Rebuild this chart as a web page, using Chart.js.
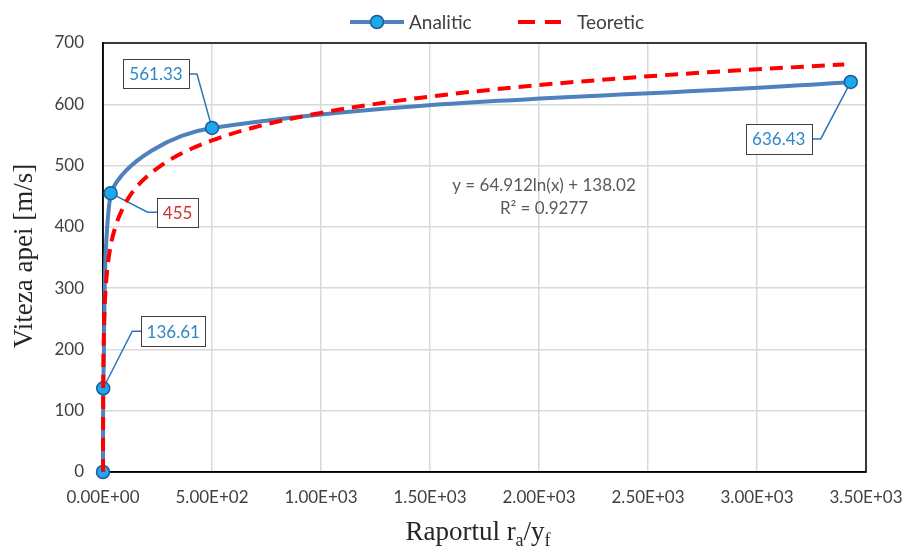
<!DOCTYPE html>
<html>
<head>
<meta charset="utf-8">
<script src="https://cdn.jsdelivr.net/npm/chart.js@4.4.1/dist/chart.umd.min.js"></script>
<style>
html,body{margin:0;padding:0;background:#fff;}
#wrap{width:909px;height:546px;}
</style>
</head>
<body>
<div id="wrap"><canvas id="c" width="909" height="546"></canvas></div>
<script>
// ---- data ----
const analiticX = [0, 1, 35, 500, 3430];
const analiticY = [0, 136.61, 455, 561.33, 636.43];
const analiticLabels = ['', '136.61', '455', '561.33', '636.43'];

const teoreticX = [0.12, 0.3, 0.6, 1, 2, 4, 7, 12, 20, 35, 55, 80, 120, 180, 250, 350, 500, 700, 1000, 1400, 1900, 2400, 2900, 3400];
const teoreticY = [0, 60, 105, 138, 183, 228, 264, 299, 332, 369, 398, 422, 449, 475, 496, 518, 541, 563, 586, 608, 628, 643, 655, 665];

const xTicks = [0, 500, 1000, 1500, 2000, 2500, 3000, 3500];
const yTicks = [0, 100, 200, 300, 400, 500, 600, 700];

const seriesNames = ['Analitic', 'Teoretic'];
const trendText = ['y = 64.912ln(x) + 138.02', 'R² = 0.9277'];
const xTitle = ['Raportul r', 'a', '/y', 'f'];
const yTitle = 'Viteza apei [m/s]';

// ---- styles ----
const BLUE = '#4F81BD';
const MARK_FILL = '#1AA9EC';
const MARK_EDGE = '#215A96';
const RED = '#FF0000';
const LABEL_BLUE = '#2E86C8';
const LABEL_RED = '#D0312D';
const LEADER = '#2E75B6';
const SANS = 'Lato, "Open Sans", sans-serif';
const SERIF = '"Liberation Serif", "DejaVu Serif", serif';

function sci(v) {
  if (v === 0) return '0.00E+00';
  const e = Math.floor(Math.log10(Math.abs(v)) + 1e-9);
  const m = v / Math.pow(10, e);
  const es = (e < 0 ? '-' : '+') + String(Math.abs(e)).padStart(2, '0');
  return m.toFixed(2) + 'E' + es;
}

const anPts = analiticX.map((x, i) => ({x, y: analiticY[i]}));
const teoPts = teoreticX.map((x, i) => ({x, y: teoreticY[i]}));

// callout geometry: offsets (px) relative to point: elbow, box center, box size, text color
const callouts = [
  null,
  {elbow: [29, -57], box: [70, -57], w: 64, h: 30, color: LABEL_BLUE},
  {elbow: [37, 19], box: [67, 19.5], w: 41, h: 29, color: LABEL_RED},
  {elbow: [-15, -54], box: [-56, -54], w: 66, h: 29, color: LABEL_BLUE},
  {elbow: [-30, 57], box: [-72, 57], w: 66, h: 30, color: LABEL_BLUE}
];

const decor = {
  id: 'decor',
  beforeDatasetsDraw(chart) {
    const {ctx, chartArea: a} = chart;
    const meta = chart.getDatasetMeta(0);
    ctx.save();
    // plot border
    ctx.strokeStyle = '#000';
    ctx.lineWidth = 1.5;
    ctx.strokeRect(a.left, a.top, a.right - a.left, a.bottom - a.top);
    // leader lines (beneath markers)
    ctx.strokeStyle = LEADER;
    ctx.lineWidth = 1.5;
    meta.data.forEach((pt, i) => {
      const c = callouts[i];
      if (!c) return;
      const ex = pt.x + c.elbow[0], ey = pt.y + c.elbow[1];
      const bx = pt.x + c.box[0] + (c.box[0] > c.elbow[0] ? -c.w / 2 : c.w / 2);
      ctx.beginPath();
      ctx.moveTo(pt.x, pt.y);
      ctx.lineTo(ex, ey);
      ctx.lineTo(bx, ey);
      ctx.stroke();
    });
    ctx.restore();
  },
  afterDraw(chart) {
    const {ctx} = chart;
    const meta = chart.getDatasetMeta(0);
    ctx.save();
    // callout boxes
    ctx.font = '17px ' + SANS;
    ctx.textAlign = 'center';
    ctx.textBaseline = 'middle';
    meta.data.forEach((pt, i) => {
      const c = callouts[i];
      if (!c) return;
      const cx = pt.x + c.box[0], cy = pt.y + c.box[1];
      ctx.fillStyle = '#fff';
      ctx.fillRect(cx - c.w / 2, cy - c.h / 2, c.w, c.h);
      ctx.strokeStyle = '#404040';
      ctx.lineWidth = 1;
      ctx.strokeRect(Math.round(cx - c.w / 2) + 0.5, Math.round(cy - c.h / 2) + 0.5, c.w, c.h);
      ctx.fillStyle = c.color;
      ctx.fillText(analiticLabels[i], cx, cy + 1);
    });

    // trendline equation
    ctx.fillStyle = '#595959';
    ctx.font = '17px ' + SANS;
    ctx.fillText(trendText[0], 544, 186);
    ctx.fillText(trendText[1], 544, 209);

    // legend
    const ly = 22;
    ctx.strokeStyle = BLUE;
    ctx.lineWidth = 4;
    ctx.beginPath(); ctx.moveTo(350, ly); ctx.lineTo(404, ly); ctx.stroke();
    ctx.fillStyle = MARK_FILL; ctx.strokeStyle = MARK_EDGE; ctx.lineWidth = 1.5;
    ctx.beginPath(); ctx.arc(377, ly, 6.5, 0, Math.PI * 2); ctx.fill(); ctx.stroke();
    ctx.strokeStyle = RED; ctx.lineWidth = 4;
    ctx.beginPath(); ctx.moveTo(518, ly); ctx.lineTo(535, ly); ctx.moveTo(545, ly); ctx.lineTo(561, ly); ctx.stroke();
    ctx.fillStyle = '#404040';
    ctx.font = '19px ' + SANS;
    ctx.textAlign = 'left';
    ctx.fillText(seriesNames[0], 409, ly + 1);
    ctx.fillText(seriesNames[1], 577, ly + 1);

    // axis titles
    ctx.fillStyle = '#262626';
    ctx.textBaseline = 'alphabetic';
    const big = '27px ' + SERIF, sub = '18px ' + SERIF;
    const parts = [[xTitle[0], big, 0], [xTitle[1], sub, 6], [xTitle[2], big, 0], [xTitle[3], sub, 6]];
    let total = 0;
    parts.forEach(p => { ctx.font = p[1]; total += ctx.measureText(p[0]).width; });
    let x0 = 478 - total / 2;
    const base = 540;
    parts.forEach(p => { ctx.font = p[1]; ctx.fillText(p[0], x0, base + p[2]); x0 += ctx.measureText(p[0]).width; });

    ctx.save();
    ctx.translate(32, 256);
    ctx.rotate(-Math.PI / 2);
    ctx.font = '27px ' + SERIF;
    ctx.textAlign = 'center';
    ctx.fillText(yTitle, 0, 0);
    ctx.restore();

    ctx.restore();
  }
};

new Chart(document.getElementById('c'), {
  type: 'scatter',
  data: {
    datasets: [
      {
        label: seriesNames[0],
        data: anPts,
        showLine: true,
        borderColor: BLUE,
        borderWidth: 4,
        tension: 0.33,
        pointRadius: 6.5,
        pointBackgroundColor: MARK_FILL,
        pointBorderColor: MARK_EDGE,
        pointBorderWidth: 1.5,
        clip: false,
        order: 1
      },
      {
        label: seriesNames[1],
        data: teoPts,
        showLine: true,
        borderColor: RED,
        borderWidth: 4,
        borderDash: [13, 8],
        cubicInterpolationMode: 'monotone',
        pointRadius: 0,
        clip: false,
        order: 0
      }
    ]
  },
  options: {
    responsive: false,
    devicePixelRatio: 1,
    animation: false,
    layout: {padding: {left: 0, right: 43, top: 43, bottom: 0}},
    plugins: {legend: {display: false}, tooltip: {enabled: false}},
    scales: {
      x: {
        type: 'linear', min: 0, max: 3500,
        afterBuildTicks: s => { s.ticks = xTicks.map(v => ({value: v})); },
        afterFit: s => { s.height = 74; s.paddingRight = 0; s.paddingLeft = 0; },
        grid: {color: '#D9D9D9', lineWidth: 1.5, drawTicks: false},
        border: {display: true, color: '#000', width: 1.5},
        ticks: {
          padding: 15, maxRotation: 0, autoSkip: false,
          color: '#404040', font: {family: SANS, size: 17},
          callback: v => sci(v)
        }
      },
      y: {
        type: 'linear', min: 0, max: 700,
        afterBuildTicks: s => { s.ticks = yTicks.map(v => ({value: v})); },
        afterFit: s => { s.width = 103; s.paddingTop = 0; s.paddingBottom = 0; },
        grid: {color: '#D9D9D9', lineWidth: 1.5, drawTicks: false},
        border: {display: true, color: '#000', width: 1.5},
        ticks: {
          padding: 19,
          color: '#404040', font: {family: SANS, size: 17},
          callback: v => String(v)
        }
      }
    }
  },
  plugins: [decor]
});
</script>
</body>
</html>
